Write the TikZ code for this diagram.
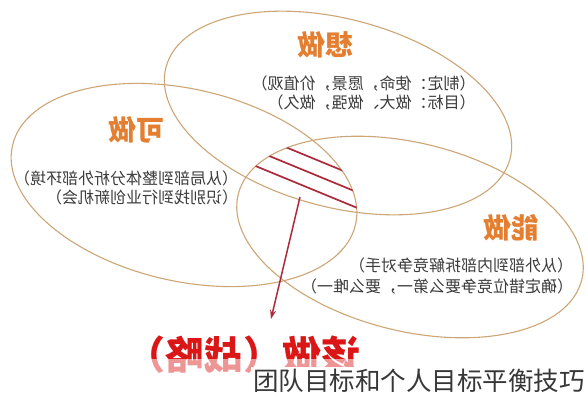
\documentclass[tikz,border=0pt]{standalone}
\usepackage{fontspec}
\setmainfont{Noto Sans CJK SC}
\usetikzlibrary{arrows.meta}
\definecolor{ringc}{RGB}{204,166,118}
\definecolor{titlec}{RGB}{228,126,48}
\definecolor{bodyc}{RGB}{60,60,60}
\definecolor{hatchc}{RGB}{172,42,58}
\definecolor{redc}{RGB}{218,22,22}
\definecolor{markc}{RGB}{55,55,55}
\tikzset{
  ring/.style={draw=ringc, line width=1.1pt},
  titletext/.style={text=titlec, font=\bfseries\fontsize{28}{30}\selectfont, xscale=-1, inner sep=0pt},
  bodytext/.style={text=bodyc, font=\fontsize{16}{19}\selectfont, xscale=-1, align=left, inner sep=0pt},
  hatchline/.style={draw=hatchc, line width=1.7pt},
  pointer/.style={draw=hatchc, line width=1.5pt, -{Stealth[length=9pt,width=6pt]}},
}
\begin{document}
\begin{tikzpicture}[x=1pt,y=-1pt]
\useasboundingbox (0,0) rectangle (588,400);
\fill[white] (0,0) rectangle (588,400);

% three ellipses
\draw[ring, rotate around={-15:(338,113)}] (338,113) ellipse [x radius=178pt, y radius=94pt];
\draw[ring, rotate around={-13:(184,185)}] (184,185) ellipse [x radius=176pt, y radius=96pt];
\draw[ring, rotate around={-14:(410,237)}] (410,237) ellipse [x radius=177pt, y radius=94pt];

% hatched common area
\begin{scope}
  \clip[rotate around={-14:(410,237)}] (410,237) ellipse [x radius=177pt, y radius=94pt];
  \clip[rotate around={-13:(184,185)}] (184,185) ellipse [x radius=176pt, y radius=96pt];
  \draw[hatchline] (240,128.3) -- (380,186);
  \draw[hatchline] (240,143.9) -- (380,201.6);
  \draw[hatchline] (240,159.6) -- (380,217.3);
\end{scope}

% titles
\node[titletext] (want) at (325,45) {想做};
\node[titletext] (can) at (136,130) {可做};
\node[titletext] (able) at (511,228) {能做};

% descriptions
\node[bodytext] (wantd) at (363.5,93.5) {（制定：使命，愿景，价值观）\\（目标：做大、做强，做久）};
\node[bodytext] (cand) at (126,188) {（从局部到整体分析外部环境）\\（识别找到行业创新机会）};
\node[bodytext] (abled) at (437,275.5) {（从外部到内部拆解竞争对手）\\[2pt]（确定错位竞争要么第一，要么唯一）};

% bottom result
\node[text=redc, font=\bfseries\fontsize{39}{41}\selectfont, xscale=-1, inner sep=0pt] (should) at (243,355) {该做（战略）};
\fill[white, fill opacity=0.55] (120,359) rectangle (390,384);

% arrow
\coordinate (from) at (300,197);
\coordinate (to) at (271,319);
\draw[pointer] (from) -- (to);

% watermark
\node[fill=white, text=markc, font=\fontsize{25.5}{27}\selectfont, anchor=west, inner sep=2pt] (mark) at (251,381) {团队目标和个人目标平衡技巧};
\end{tikzpicture}
\end{document}
